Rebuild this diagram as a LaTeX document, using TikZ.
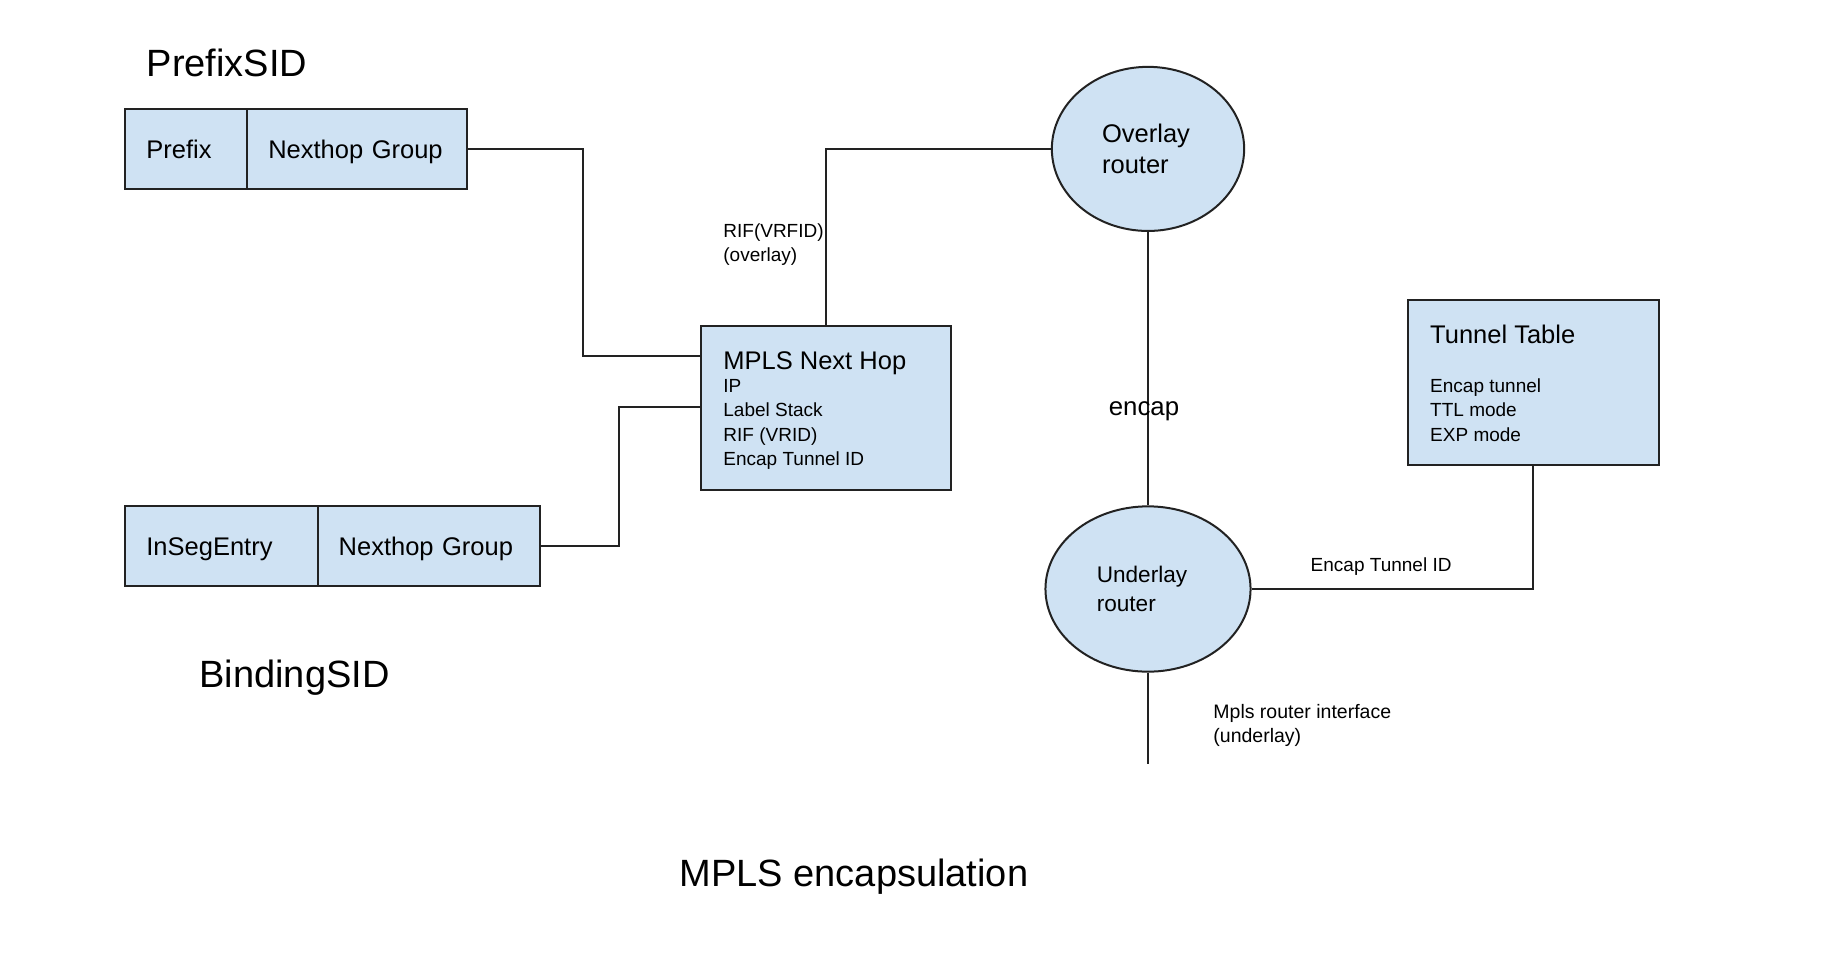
\documentclass[tikz,border=0pt]{standalone}
\usepackage{fontspec}
\setmainfont{Liberation Sans}
\usetikzlibrary{shapes.geometric}
\definecolor{boxfill}{HTML}{CFE2F3}
\definecolor{linec}{HTML}{222222}
\newcommand\fszTitle{\fontsize{38}{46}\selectfont}
\newcommand\fszMain{\fontsize{25.5}{31.6}\selectfont}
\newcommand\fszRouter{\fontsize{22.6}{29.3}\selectfont}
\newcommand\fszSmall{\fontsize{19}{24.3}\selectfont}
\newcommand\fszIface{\fontsize{19.5}{24.6}\selectfont}
\begin{document}
\begin{tikzpicture}[x=1pt,y=-1pt,
  shapebox/.style={draw=linec, fill=boxfill, line width=2pt, inner sep=0pt, rectangle},
  cell/.style={shapebox, anchor=north west, minimum height=79.7pt, align=left, outer sep=0pt,
               inner xsep=21pt, inner ysep=0pt, text height=18.3pt, text depth=0pt, font=\fszMain},
  router/.style={draw=linec, fill=boxfill, line width=2pt, ellipse, inner sep=0pt, align=left},
  conn/.style={draw=linec, line width=2pt},
  txt/.style={inner sep=0pt, anchor=base west, text=black},
]
\useasboundingbox (0,0) rectangle (1838,962);
\fill[white] (0,0) rectangle (1838,962);

% titles
\node[txt, font=\fszTitle] (tPrefixSID) at (146.5,76.9) {PrefixSID};
\node[txt, font=\fszTitle] (tBindingSID) at (199.3,687.6) {BindingSID};
\node[txt, anchor=base, font=\fszTitle] (tCaption) at (854,886.6) {MPLS encapsulation};

% PrefixSID table
\node[cell, text width=79.9pt] (pfx) at (125.4,109) {Prefix};
\node[cell, text width=177.4pt] (ng1) at (pfx.north east) {Nexthop Group};

% BindingSID table
\node[cell, text width=150.3pt] (inseg) at (125.4,506.4) {InSegEntry};
\node[cell, text width=180.7pt] (ng2) at (inseg.north east) {Nexthop Group};

% MPLS Next Hop box
\node[shapebox, anchor=north west, minimum width=249.7pt, minimum height=164.1pt] (mpls) at (699.8,324.7) {};
\node[txt, font=\fszMain] (mplsT) at (723.2,369) {MPLS Next Hop};
\node[txt, font=\fszSmall] (mplsA) at (723.2,392.5) {IP};
\node[txt, font=\fszSmall] (mplsB) at (723.2,416.8) {Label Stack};
\node[txt, font=\fszSmall] (mplsC) at (723.2,441.1) {RIF (VRID)};
\node[txt, font=\fszSmall] (mplsD) at (723.2,465.4) {Encap Tunnel ID};

% Tunnel table box
\node[shapebox, anchor=north west, minimum width=250.9pt, minimum height=165.3pt] (tt) at (1406.6,298.9) {};
\node[txt, font=\fszMain] (ttT) at (1430,343.1) {Tunnel Table};
\node[txt, font=\fszSmall] (ttA) at (1430,392.5) {Encap tunnel};
\node[txt, font=\fszSmall] (ttB) at (1430,416.8) {TTL mode};
\node[txt, font=\fszSmall] (ttC) at (1430,441.1) {EXP mode};

% routers
\node[router, minimum width=192.3pt, minimum height=164.1pt, font=\fszMain] (ov) at (1148,148.9) {Overlay\hspace*{4pt}\\router};
\node[router, minimum width=205.1pt, minimum height=165.3pt, font=\fszRouter] (un) at (1148,589) {Underlay\hspace*{12pt}\\router};

% connectors
\coordinate (j1) at (582.6,356.3);
\coordinate (j2) at (618.9,406.7);
\coordinate (uend) at (1148,764.3);
\draw[conn] (ng1.east) -| (j1) -- (j1 -| mpls.west);
\draw[conn] (ng2.east) -| (j2) -- (j2 -| mpls.west);
\draw[conn] (mpls.north) |- (ov.west);
\draw[conn] (ov.south) -- (un.north);
\draw[conn] (un.east) -| (tt.south);
\draw[conn] (un.south) -- (uend);

% connector labels
\node[txt, font=\fszSmall] (lRif1) at (723.2,237.7) {RIF(VRFID)};
\node[txt, font=\fszSmall] (lRif2) at (723.2,261.2) {(overlay)};
\node[txt, anchor=base, font=\fontsize{25.8}{31}\selectfont] (lEncap) at (1144,415) {encap};
\node[txt, font=\fszSmall] (lTid) at (1310.5,571.8) {Encap Tunnel ID};
\node[txt, font=\fszIface] (lIf1) at (1213.2,718.3) {Mpls router interface};
\node[txt, font=\fszIface] (lIf2) at (1213.2,742.9) {(underlay)};
\end{tikzpicture}
\end{document}
